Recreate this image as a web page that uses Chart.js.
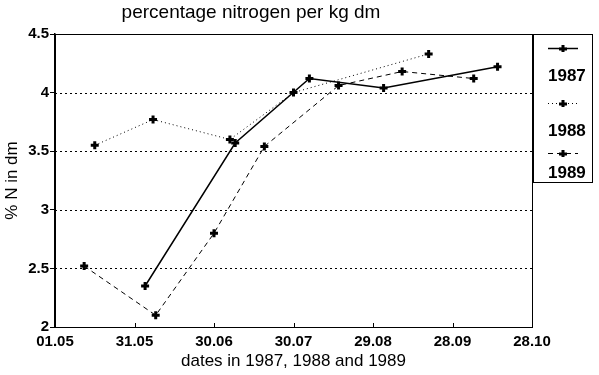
<!DOCTYPE html>
<html>
<head>
<meta charset="utf-8">
<script src="https://cdn.jsdelivr.net/npm/chart.js@4.4.1/dist/chart.umd.min.js"></script>
<style>
  html, body { margin: 0; padding: 0; background: #fff; }
  #wrap { width: 599px; height: 375px; position: relative; }
</style>
</head>
<body>
<div id="wrap"><canvas id="nChart" width="599" height="375"></canvas></div>
<script>
// x values are days after 01.05
const tickLabels = ['01.05', '31.05', '30.06', '30.07', '29.08', '28.09', '28.10'];
const years = ['1987', '1988', '1989'];

const days1987 = [34, 68, 96, 124, 167];
const n1987 = [2.35, 3.57, 4.12, 4.04, 4.22];

const days1988 = [15, 37, 66, 90, 141];
const n1988 = [3.55, 3.77, 3.6, 4.0, 4.33];

const days1989 = [11, 38, 60, 79, 107, 131, 158];
const n1989 = [2.52, 2.1, 2.8, 3.54, 4.06, 4.18, 4.12];

const FONT = '"Liberation Sans", Arial, sans-serif';

function toPoints(xs, ys) {
  return xs.map((x, i) => ({ x: x, y: ys[i] }));
}

function makeSet(label, xs, ys, dash, width) {
  return {
    label: label,
    data: toPoints(xs, ys),
    borderColor: '#000',
    backgroundColor: '#000',
    borderWidth: width,
    borderDash: dash,
    pointStyle: 'cross',
    pointRadius: 4,
    pointBorderWidth: 3,
    pointBorderColor: '#000',
    tension: 0
  };
}

// dotted gridlines under the lines
const dottedGrid = {
  id: 'dottedGrid',
  beforeDatasetsDraw(chart) {
    const ctx = chart.ctx;
    const a = chart.chartArea;
    const ys = chart.scales.y;
    ctx.save();
    ctx.strokeStyle = '#000';
    ctx.lineWidth = 1;
    ctx.setLineDash([2, 3]);
    ys.ticks.forEach(t => {
      if (t.value === ys.min || t.value === ys.max) return;
      const py = Math.round(ys.getPixelForValue(t.value)) + 0.5;
      ctx.beginPath();
      ctx.moveTo(a.left, py);
      ctx.lineTo(a.right, py);
      ctx.stroke();
    });
    ctx.restore();
  }
};

// frame, inward x ticks, title and the boxed legend on the right
const extras = {
  id: 'extras',
  afterDraw(chart) {
    const ctx = chart.ctx;
    const a = chart.chartArea;
    ctx.save();
    ctx.setLineDash([]);
    ctx.strokeStyle = '#000';
    ctx.lineWidth = 1;
    ctx.strokeRect(a.left + 0.5, a.top + 0.5, a.right - a.left, a.bottom - a.top);

    // x ticks pointing into the plot
    const xs = chart.scales.x;
    for (let d = 30; d < 180; d += 30) {
      const px = Math.round(xs.getPixelForValue(d)) + 0.5;
      ctx.beginPath();
      ctx.moveTo(px, a.bottom);
      ctx.lineTo(px, a.bottom - 4);
      ctx.stroke();
    }

    // title
    ctx.fillStyle = '#000';
    ctx.font = '19px ' + FONT;
    ctx.textAlign = 'center';
    ctx.textBaseline = 'middle';
    ctx.fillText('percentage nitrogen per kg dm', 251, 13);

    // legend
    ctx.strokeRect(533.5, 34.5, 59, 148);
    const lineY = [48, 103, 153];
    const textY = [76, 131, 173];
    chart.data.datasets.forEach((ds, i) => {
      ctx.lineWidth = ds.borderWidth;
      ctx.setLineDash(ds.borderDash);
      ctx.beginPath();
      ctx.moveTo(548, lineY[i] + 0.5);
      ctx.lineTo(578, lineY[i] + 0.5);
      ctx.stroke();
      ctx.setLineDash([]);
      ctx.lineWidth = 3;
      ctx.beginPath();
      ctx.moveTo(559, lineY[i] + 1);
      ctx.lineTo(567, lineY[i] + 1);
      ctx.moveTo(563, lineY[i] - 3);
      ctx.lineTo(563, lineY[i] + 4);
      ctx.stroke();
      ctx.font = 'bold 17px ' + FONT;
      ctx.textAlign = 'left';
      ctx.fillText(ds.label, 548, textY[i]);
    });
    ctx.restore();
  }
};

new Chart(document.getElementById('nChart'), {
  type: 'line',
  data: {
    datasets: [
      makeSet(years[0], days1987, n1987, [], 1.5),
      makeSet(years[1], days1988, n1988, [1, 3], 1),
      makeSet(years[2], days1989, n1989, [5, 4], 1)
    ]
  },
  plugins: [dottedGrid, extras],
  options: {
    responsive: false,
    animation: false,
    layout: { padding: { top: 34, right: 67, left: 0, bottom: 0 } },
    plugins: {
      legend: { display: false },
      title: { display: false },
      tooltip: { enabled: false }
    },
    scales: {
      x: {
        type: 'linear',
        min: 0,
        max: 180,
        afterFit(scale) { scale.height = 48; },
        afterBuildTicks(scale) {
          scale.ticks = tickLabels.map((t, i) => ({ value: i * 30 }));
        },
        ticks: {
          color: '#000',
          padding: -2,
          maxRotation: 0,
          autoSkip: false,
          font: { family: FONT, size: 15, weight: 'bold' },
          callback: (v) => tickLabels[v / 30]
        },
        grid: { display: false },
        border: { display: true, color: '#000', width: 1 },
        title: {
          display: true,
          text: 'dates in 1987, 1988 and 1989',
          color: '#000',
          padding: { top: 0, bottom: 3 },
          font: { family: FONT, size: 17 }
        }
      },
      y: {
        min: 2,
        max: 4.5,
        afterFit(scale) { scale.width = 55; },
        ticks: {
          stepSize: 0.5,
          color: '#000',
          padding: 1,
          font: { family: FONT, size: 15, weight: 'bold' },
          callback: (v) => String(v)
        },
        grid: {
          drawOnChartArea: false,
          tickLength: 5,
          tickColor: '#000'
        },
        border: { display: true, color: '#000', width: 1.5 },
        title: {
          display: true,
          text: '% N in dm',
          color: '#000',
          padding: { top: 2, bottom: 0 },
          font: { family: FONT, size: 17 }
        }
      }
    }
  }
});
</script>
</body>
</html>
